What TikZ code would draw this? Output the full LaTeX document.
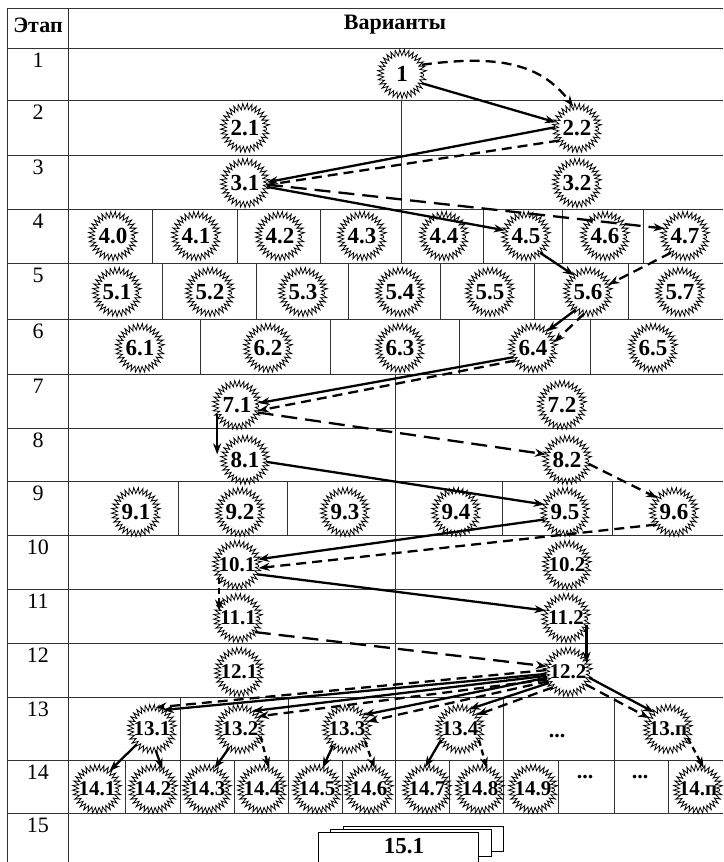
\documentclass[tikz,border=0pt]{standalone}
\usepackage{fontspec}
\setmainfont{Liberation Serif}
\usepackage{tikz}
\usetikzlibrary{positioning}
\usetikzlibrary{arrows.meta}
\usetikzlibrary{decorations.pathmorphing}

\begin{document}
\begin{tikzpicture}[x=1pt, y=-1pt,
    var/.style={draw, circle, minimum size=43pt, inner sep=0pt, line width=0.8pt,
        decorate, decoration={zigzag, segment length=4.1pt, amplitude=3pt},
        font=\fontsize{23}{23}\selectfont\bfseries},
    varw/.style={var, font=\fontsize{21}{21}\selectfont\bfseries},
    cell/.style={line width=0.8pt, black!80},
    bestline/.style={line width=2.3pt, -{Stealth[length=11pt,width=8pt]}},
    altline/.style={bestline, dash pattern=on 10pt off 6pt},
    altshort/.style={bestline, dash pattern=on 6pt off 4pt},
    altlong/.style={bestline, dash pattern=on 16pt off 8pt},
    stagelbl/.style={anchor=north, inner sep=0pt, font=\fontsize{22}{22}\selectfont},
    headlbl/.style={font=\fontsize{22}{22}\selectfont\bfseries},
    dotslbl/.style={font=\fontsize{22}{22}\selectfont\bfseries},
    sheet/.style={draw, fill=white, line width=1pt},
]
    \useasboundingbox (0,0) rectangle (723,862);
    \clip (0,0) rectangle (723,862);

    % table
    \draw[cell] (7,8) -- (723,8);
    \draw[cell] (7,8) -- (7,862);
    \draw[cell] (68,8) -- (68,862);
    \foreach \y in {48,100,155,209,263,319,374,428,481,535,589,643,697,760,813}
        \draw[cell] (7,\y) -- (723,\y);
    \draw[cell] (401,100) -- (401,209);
    \draw[cell] (395,374) -- (395,813);
    \foreach \x in {152,237,320,401,483,562,643}
        \draw[cell] (\x,209) -- (\x,263);
    \foreach \x in {162,256,348,440,534,628}
        \draw[cell] (\x,263) -- (\x,319);
    \foreach \x in {200,330,459,590}
        \draw[cell] (\x,319) -- (\x,374);
    \foreach \x in {178,287,502,612}
        \draw[cell] (\x,481) -- (\x,535);
    \foreach \x in {180,288,503,614}
        \draw[cell] (\x,697) -- (\x,760);
    \foreach \x in {125,180,234,288,342,449,503,558,614,668}
        \draw[cell] (\x,760) -- (\x,813);

    \node[headlbl] (hstage) at (38,25) {Этап};
    \node[headlbl] (hvar) at (395,25) {Варианты};
    \foreach \i/\y in {1/48,2/100,3/155,4/209,5/263,6/319,7/374,8/428,9/481,10/535,11/589,12/643,13/697,14/760,15/813}
        \node[stagelbl] (s\i) at (38,\y+5) {\i};

    % variants
    \node[var] (n1) at (402,74) {1};
    \node[var] (n21) at (245,128) {2.1};
    \node[var] (n22) at (577,128) {2.2};
    \node[var] (n31) at (245,183) {3.1};
    \node[var] (n32) at (577,183) {3.2};

    \node[var] (n40) at (113,236) {4.0};
    \node[var] (n41) at (196,236) {4.1};
    \node[var] (n42) at (280,236) {4.2};
    \node[var] (n43) at (362,236) {4.3};
    \node[var] (n44) at (444,236) {4.4};
    \node[var] (n45) at (526,236) {4.5};
    \node[var] (n46) at (605,236) {4.6};
    \node[var] (n47) at (685,236) {4.7};

    \node[var] (n51) at (117,292) {5.1};
    \node[var] (n52) at (210,292) {5.2};
    \node[var] (n53) at (303,292) {5.3};
    \node[var] (n54) at (400,292) {5.4};
    \node[var] (n55) at (490,292) {5.5};
    \node[var] (n56) at (588,292) {5.6};
    \node[var] (n57) at (680,292) {5.7};

    \node[var] (n61) at (140,348) {6.1};
    \node[var] (n62) at (268,348) {6.2};
    \node[var] (n63) at (400,348) {6.3};
    \node[var] (n64) at (533,348) {6.4};
    \node[var] (n65) at (653,348) {6.5};

    \node[var] (n71) at (237,405) {7.1};
    \node[var] (n72) at (562,405) {7.2};
    \node[var] (n81) at (245,460) {8.1};
    \node[var] (n82) at (567,460) {8.2};

    \node[var] (n91) at (136,512) {9.1};
    \node[var] (n92) at (240,512) {9.2};
    \node[var] (n93) at (345,512) {9.3};
    \node[var] (n94) at (456,512) {9.4};
    \node[var] (n95) at (565,512) {9.5};
    \node[var] (n96) at (674,512) {9.6};

    \node[varw] (n101) at (237,565) {10.1};
    \node[varw] (n102) at (567,565) {10.2};
    \node[varw] (n111) at (238,618) {11.1};
    \node[varw] (n112) at (566,618) {11.2};
    \node[varw] (n121) at (239,672) {12.1};
    \node[varw] (n122) at (568,672) {12.2};

    \node[varw] (n131) at (152,729) {13.1};
    \node[varw] (n132) at (240,729) {13.2};
    \node[varw] (n133) at (347,729) {13.3};
    \node[varw] (n134) at (460,729) {13.4};
    \node[dotslbl] (d13) at (557,736) {...};
    \node[varw] (n13n) at (668,729) {13.п};

    \node[varw] (n141) at (97,789) {14.1};
    \node[varw] (n142) at (153,789) {14.2};
    \node[varw] (n143) at (207,789) {14.3};
    \node[varw] (n144) at (262,789) {14.4};
    \node[varw] (n145) at (317,789) {14.5};
    \node[varw] (n146) at (369,789) {14.6};
    \node[varw] (n147) at (427,789) {14.7};
    \node[varw] (n148) at (480,789) {14.8};
    \node[varw] (n149) at (533,789) {14.9};
    \node[dotslbl] (d14a) at (585,777) {...};
    \node[dotslbl] (d14b) at (640,777) {...};
    \node[varw] (n14n) at (698,789) {14.п};

    \draw[sheet] (343,826) rectangle (503,851);
    \draw[sheet] (330,829) rectangle (491,856);
    \draw[sheet] (318,832) rectangle (478,872);
    \node[headlbl, font=\fontsize{23}{23}\selectfont\bfseries] (n151) at (404,846) {15.1};

    % decisions
    \draw[bestline] (n1.-25) -- (n22.165);
    \draw[altline] (n1.25) .. controls (495,55) and (540,62) .. (n22.100);
    \draw[bestline] (n22.178) -- (n31.2);
    \draw[altline] (n22.215) -- (n31.-5);
    \draw[bestline] (n31.-10) -- (n45.165);
    \draw[altlong] (n31.-4) -- (n47.160);
    \draw[bestline] (n45.-50) -- (n56.130);
    \draw[altline] (n47.230) -- (n56.20);
    \draw[bestline] (n56.235) -- (n64.50);
    \draw[altline] (n56.260) -- (n64.15);
    \draw[bestline] (n64.205) -- (n71.5);
    \draw[altline] (n64.215) -- (n71.-15);
    \draw[bestline] (n71.205) -- (n71.205 |- n81.165);
    \draw[altlong] (n71.-20) -- (n82.165);
    \draw[bestline] (n81.-5) -- (n95.160);
    \draw[altline] (n82.-10) -- (n96.140);
    \draw[bestline] (n95.200) -- (n101.15);
    \draw[altline] (n96.215) -- (n101.-8);
    \draw[bestline] (n101.-25) -- (n112.160);
    \draw[altshort] (n101.215) -- (n101.215 |- n111.160);
    \draw[bestline] (n112.-20) -- (n112.-20 |- n122.25);
    \draw[altlong] (n111.-40) -- (n122.165);

    \draw[bestline] (n122.185) -- (n131.60);
    \draw[altline] (n122.175) -- (n131.80);
    \draw[bestline] (n122.190) -- (n132.55);
    \draw[altline] (n122.200) -- (n132.35);
    \draw[bestline] (n122.195) -- (n133.40);
    \draw[altline] (n122.205) -- (n133.20);
    \draw[bestline] (n122.210) -- (n134.65);
    \draw[altline] (n122.225) -- (n134.40);
    \draw[bestline] (n122.-15) -- (n13n.130);
    \draw[altline] (n122.-35) -- (n13n.150);

    \draw[bestline] (n131.225) -- (n141.55);
    \draw[bestline] (n131.-80) -- (n142.65);
    \draw[bestline] (n132.240) -- (n143.70);
    \draw[altshort] (n132.-20) -- (n144.72);
    \draw[bestline] (n133.230) -- (n145.75);
    \draw[altshort] (n133.-35) -- (n146.75);
    \draw[bestline] (n134.210) -- (n147.95);
    \draw[altshort] (n134.-30) -- (n148.72);
    \draw[altshort] (n13n.-25) -- (n14n.75);
\end{tikzpicture}
\end{document}
